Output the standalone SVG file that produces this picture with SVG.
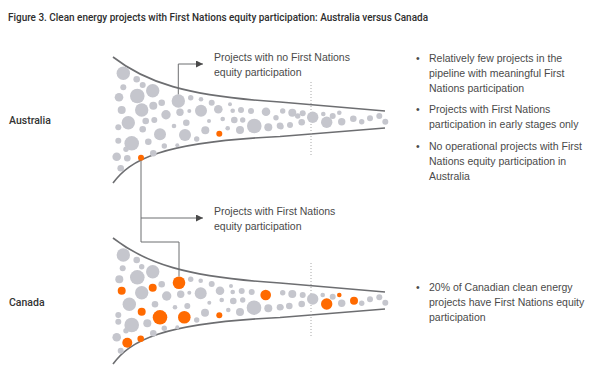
<svg xmlns="http://www.w3.org/2000/svg" width="600" height="374" viewBox="0 0 600 374">
<style>
text{font-family:"Liberation Sans",Arial,sans-serif;}
.title{font-family:Roboto,"Liberation Sans",sans-serif;font-size:10.5px;font-weight:500;fill:#2e2e2e;}
.lab{font-family:Roboto,"Liberation Sans",sans-serif;font-size:10.5px;font-weight:500;fill:#333;}
.body{font-size:10.5px;fill:#4a4a4a;}
.fun{fill:none;stroke:#6d6e71;stroke-width:1.6;}
.dot{fill:none;stroke:#a8a8a8;stroke-width:1;stroke-dasharray:1 2;}
.g{fill:#c5c6cd;}
.o{fill:#ff6a00;}
.con{fill:none;stroke:#6d6e71;stroke-width:1;}
</style>
<defs>
<marker id="ah" viewBox="0 0 10 10" refX="10" refY="5" markerWidth="7" markerHeight="7" markerUnits="userSpaceOnUse" orient="auto">
<path d="M0,0 L10,5 L0,10 z" fill="#4a4a4a"/>
</marker>
</defs>
<rect width="600" height="374" fill="#fff"/>
<g id="title"><text class="title" x="8" y="21" textLength="420" lengthAdjust="spacingAndGlyphs">Figure 3. Clean energy projects with First Nations equity participation: Australia versus Canada</text></g>
<g id="label-australia"><text class="lab" x="9" y="124">Australia</text></g>
<g id="label-canada"><text class="lab" x="9" y="306">Canada</text></g>

<g id="funnel-australia">
<path class="fun" d="M113,57 C145,82 185,96 280,102 L385,111"/>
<path class="fun" d="M113,183 C130,160 160,142 280,136.5 L385,128"/>
<line class="dot" x1="311" y1="82" x2="311" y2="157"/>
<circle class="g" cx="123.3" cy="73.3" r="6.7"/>
<circle class="g" cx="136.7" cy="79.3" r="3.3"/>
<circle class="g" cx="142.7" cy="85" r="3"/>
<circle class="g" cx="123.3" cy="87.3" r="3"/>
<circle class="g" cx="152.7" cy="90.7" r="6.7"/>
<circle class="g" cx="137.3" cy="96" r="7.3"/>
<circle class="g" cx="119" cy="97.3" r="4.3"/>
<circle class="g" cx="161.7" cy="102.7" r="3.3"/>
<circle class="g" cx="178.3" cy="101" r="6.7"/>
<circle class="g" cx="190.7" cy="97.7" r="2.7"/>
<circle class="g" cx="201" cy="99.3" r="2.3"/>
<circle class="g" cx="211.7" cy="102.7" r="3"/>
<circle class="g" cx="218.3" cy="109.3" r="4.3"/>
<circle class="g" cx="230" cy="104.3" r="2"/>
<circle class="g" cx="232.7" cy="110.7" r="2.3"/>
<circle class="g" cx="241" cy="110" r="3"/>
<circle class="g" cx="251" cy="111" r="3"/>
<circle class="g" cx="266" cy="111.7" r="4.3"/>
<circle class="g" cx="282.7" cy="111" r="2.7"/>
<circle class="g" cx="292.3" cy="112.7" r="4"/>
<circle class="g" cx="141.7" cy="110" r="6.7"/>
<circle class="g" cx="153.3" cy="105.7" r="4"/>
<circle class="g" cx="121.7" cy="110" r="4"/>
<circle class="g" cx="166" cy="114.7" r="4.7"/>
<circle class="g" cx="180" cy="112.3" r="3.7"/>
<circle class="g" cx="189.3" cy="111" r="2"/>
<circle class="g" cx="201" cy="110.7" r="6"/>
<circle class="g" cx="128.3" cy="122.7" r="6.7"/>
<circle class="g" cx="145.7" cy="121" r="3.3"/>
<circle class="g" cx="154.3" cy="120" r="3"/>
<circle class="g" cx="174" cy="126" r="2.3"/>
<circle class="g" cx="186.3" cy="122.7" r="3.3"/>
<circle class="g" cx="209" cy="121" r="2"/>
<circle class="g" cx="222.7" cy="119" r="2.3"/>
<circle class="g" cx="234.3" cy="120" r="3.3"/>
<circle class="g" cx="242.7" cy="120" r="2.7"/>
<circle class="g" cx="254.3" cy="126" r="7.3"/>
<circle class="g" cx="268.3" cy="127.3" r="4"/>
<circle class="g" cx="276" cy="117.7" r="2.7"/>
<circle class="g" cx="280" cy="125.7" r="3.3"/>
<circle class="g" cx="290" cy="125" r="3"/>
<circle class="g" cx="297.7" cy="116" r="2.7"/>
<circle class="g" cx="142.7" cy="129.3" r="3.3"/>
<circle class="g" cx="118.3" cy="127.3" r="3"/>
<circle class="g" cx="160" cy="134.3" r="6"/>
<circle class="g" cx="185" cy="135" r="6"/>
<circle class="g" cx="196.7" cy="139" r="2.7"/>
<circle class="g" cx="205.3" cy="130.3" r="4"/>
<circle class="o" cx="219.3" cy="133.7" r="3"/>
<circle class="g" cx="227.7" cy="128.3" r="2.3"/>
<circle class="g" cx="240" cy="130" r="4"/>
<circle class="g" cx="131.7" cy="143.3" r="7.3"/>
<circle class="g" cx="118.3" cy="140.7" r="3"/>
<circle class="g" cx="148.3" cy="141.7" r="3.3"/>
<circle class="g" cx="164.3" cy="146" r="2.7"/>
<circle class="g" cx="177.3" cy="145.3" r="2"/>
<circle class="g" cx="153.3" cy="153.3" r="3.3"/>
<circle class="g" cx="126" cy="149.3" r="2.7"/>
<circle class="g" cx="116.7" cy="156.7" r="4.3"/>
<circle class="g" cx="127.3" cy="158.3" r="3.3"/>
<circle class="o" cx="141" cy="157.7" r="3"/>
<circle class="g" cx="120.7" cy="168.3" r="3.3"/>
<circle class="g" cx="302.7" cy="113.3" r="3"/>
<circle class="g" cx="312.7" cy="117.3" r="5.7"/>
<circle class="g" cx="323.3" cy="114" r="2.3"/>
<circle class="g" cx="332.7" cy="116" r="3"/>
<circle class="g" cx="339.3" cy="112.7" r="2.3"/>
<circle class="g" cx="326.7" cy="122.3" r="5.7"/>
<circle class="g" cx="341.7" cy="121.7" r="3.7"/>
<circle class="g" cx="353.3" cy="118.7" r="3.3"/>
<circle class="g" cx="361.7" cy="121.7" r="2.7"/>
<circle class="g" cx="370" cy="118.3" r="3"/>
<circle class="g" cx="379.3" cy="116" r="3"/>
<circle class="g" cx="385.3" cy="121.7" r="3"/>
<circle class="g" cx="281" cy="126.7" r="2.7"/>
<circle class="g" cx="301.7" cy="122.3" r="3.3"/>
</g>

<g id="funnel-canada">
<path class="fun" d="M113,238 C145,263 185,277 280,283 L385,292"/>
<path class="fun" d="M113,364 C130,341 160,323 280,317.5 L385,309"/>
<line class="dot" x1="311" y1="263" x2="311" y2="338"/>
<circle class="g" cx="123.3" cy="255" r="6.7"/>
<circle class="g" cx="136.7" cy="260" r="3.3"/>
<circle class="g" cx="141.7" cy="266.7" r="2.7"/>
<circle class="g" cx="122.7" cy="268.3" r="3"/>
<circle class="g" cx="152.7" cy="271.7" r="6.7"/>
<circle class="g" cx="137.3" cy="277.3" r="7.3"/>
<circle class="g" cx="119.3" cy="279.3" r="4"/>
<circle class="o" cx="179" cy="282.7" r="6.3"/>
<circle class="g" cx="161.7" cy="284.3" r="3.3"/>
<circle class="g" cx="190.7" cy="279.3" r="2.7"/>
<circle class="g" cx="200.7" cy="280.7" r="2.3"/>
<circle class="g" cx="211.7" cy="284" r="3"/>
<circle class="g" cx="220" cy="290.7" r="4.3"/>
<circle class="g" cx="231" cy="286" r="2"/>
<circle class="g" cx="232.7" cy="292" r="2.3"/>
<circle class="g" cx="241.7" cy="291" r="3"/>
<circle class="g" cx="251.7" cy="292" r="3"/>
<circle class="o" cx="265.7" cy="295" r="5.3"/>
<circle class="g" cx="282.7" cy="292.7" r="2.7"/>
<circle class="g" cx="292.3" cy="294" r="4"/>
<circle class="o" cx="121.7" cy="290.7" r="4"/>
<circle class="g" cx="141.7" cy="292.7" r="6.7"/>
<circle class="o" cx="152.7" cy="287.7" r="4"/>
<circle class="g" cx="166.7" cy="296" r="4.7"/>
<circle class="g" cx="180.7" cy="294.3" r="3.7"/>
<circle class="g" cx="189.3" cy="292.7" r="2"/>
<circle class="g" cx="200.7" cy="293.3" r="6"/>
<circle class="g" cx="129.3" cy="304.3" r="6.7"/>
<circle class="o" cx="141.7" cy="311.7" r="4"/>
<circle class="g" cx="155" cy="304.3" r="3.3"/>
<circle class="g" cx="175" cy="307.3" r="2.3"/>
<circle class="g" cx="187.3" cy="306" r="3"/>
<circle class="g" cx="209.3" cy="302.7" r="2"/>
<circle class="g" cx="221.7" cy="300" r="2.3"/>
<circle class="g" cx="233.3" cy="301" r="3.3"/>
<circle class="g" cx="242.7" cy="300" r="2.7"/>
<circle class="g" cx="254" cy="307.7" r="7.3"/>
<circle class="g" cx="268.3" cy="308.3" r="4"/>
<circle class="g" cx="280" cy="307.3" r="3.3"/>
<circle class="g" cx="289.3" cy="306" r="3.3"/>
<circle class="g" cx="118.3" cy="315" r="3"/>
<circle class="o" cx="160" cy="317.3" r="7.3"/>
<circle class="o" cx="184.3" cy="317.3" r="6.3"/>
<circle class="g" cx="147.3" cy="323.3" r="4"/>
<circle class="g" cx="131.7" cy="325" r="7.3"/>
<circle class="g" cx="205" cy="312.7" r="4"/>
<circle class="g" cx="196.7" cy="320" r="2.7"/>
<circle class="o" cx="219.3" cy="315.3" r="3"/>
<circle class="g" cx="228.3" cy="310" r="2.3"/>
<circle class="g" cx="240" cy="312" r="4"/>
<circle class="g" cx="118.3" cy="321.7" r="3"/>
<circle class="g" cx="164.3" cy="328.3" r="2.7"/>
<circle class="g" cx="177.3" cy="327.3" r="2"/>
<circle class="g" cx="153.3" cy="333.3" r="3.3"/>
<circle class="g" cx="126" cy="330.7" r="2.7"/>
<circle class="g" cx="116.7" cy="337.3" r="4.3"/>
<circle class="o" cx="127.3" cy="342.7" r="5"/>
<circle class="o" cx="140.7" cy="338.7" r="3.3"/>
<circle class="g" cx="120.7" cy="350.7" r="3"/>
<circle class="g" cx="302.7" cy="295" r="3"/>
<circle class="g" cx="312.7" cy="299" r="5.7"/>
<circle class="g" cx="322.7" cy="295" r="2.3"/>
<circle class="g" cx="332.7" cy="296.7" r="3"/>
<circle class="o" cx="339.3" cy="295" r="2.3"/>
<circle class="o" cx="326.7" cy="304" r="5.7"/>
<circle class="g" cx="341.7" cy="303.3" r="3.7"/>
<circle class="o" cx="354" cy="300.7" r="4"/>
<circle class="g" cx="361.7" cy="303.3" r="2.7"/>
<circle class="g" cx="370" cy="299.3" r="3"/>
<circle class="g" cx="379.3" cy="297.3" r="3"/>
<circle class="g" cx="385.3" cy="302.7" r="3"/>
<circle class="g" cx="281" cy="307.3" r="2.7"/>
<circle class="g" cx="301.7" cy="304" r="3.3"/>
</g>

<g id="connectors">
<path class="con" d="M178.3,94.3 V64 H203" marker-end="url(#ah)"/>
<path class="con" d="M141,160.7 V242 H179 V276.4"/>
<path class="con" d="M141,218 H203" marker-end="url(#ah)"/>
</g>

<g id="callout-no-fn">
<text class="body" x="214" y="61">Projects with no First Nations</text>
<text class="body" x="214" y="76">equity participation</text>
</g>
<g id="callout-fn">
<text class="body" x="214" y="214.5">Projects with First Nations</text>
<text class="body" x="214" y="230">equity participation</text>
</g>

<g id="notes-australia">
<text class="body" x="416" y="61.5">•</text>
<text class="body" x="429" y="61.5">Relatively few projects in the</text>
<text class="body" x="429" y="76.5">pipeline with meaningful First</text>
<text class="body" x="429" y="91.5">Nations participation</text>
<text class="body" x="416" y="112.5">•</text>
<text class="body" x="429" y="112.5">Projects with First Nations</text>
<text class="body" x="429" y="127.5">participation in early stages only</text>
<text class="body" x="416" y="149.5">•</text>
<text class="body" x="429" y="149.5">No operational projects with First</text>
<text class="body" x="429" y="164.5">Nations equity participation in</text>
<text class="body" x="429" y="179.5">Australia</text>
</g>
<g id="notes-canada">
<text class="body" x="416" y="290.5">•</text>
<text class="body" x="429" y="290.5">20% of Canadian clean energy</text>
<text class="body" x="429" y="305.5">projects have First Nations equity</text>
<text class="body" x="429" y="320.5">participation</text>
</g>
</svg>
